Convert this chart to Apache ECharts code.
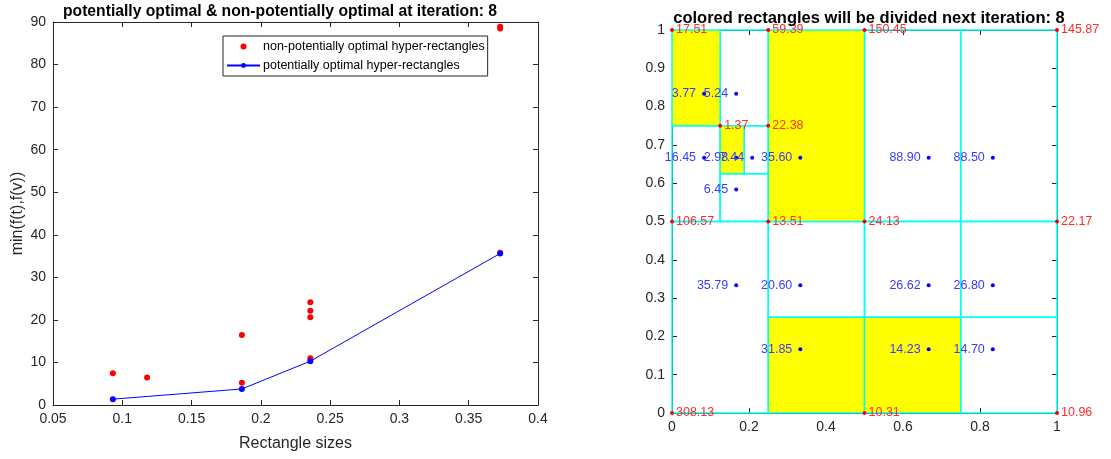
<!DOCTYPE html>
<html>
<head>
<meta charset="utf-8">
<script src="https://cdn.jsdelivr.net/npm/echarts@6/dist/echarts.min.js"></script>
<style>
html, body { margin: 0; padding: 0; background: #fff; }
#main { width: 1111px; height: 459px; }
</style>
</head>
<body>
<div id="main"></div>
<script>
// left plot: [rectangle size, min(f(t),f(v))]
var nonOptimal = [
    [0.0932, 7.44], [0.1179, 6.45],
    [0.1863, 5.24], [0.1863, 16.45],
    [0.2357, 20.60], [0.2357, 24.13], [0.2357, 22.17], [0.2357, 10.96],
    [0.3727, 88.90], [0.3727, 88.50], [0.3727, 35.79]
];
var optimal = [[0.0932, 1.37], [0.1863, 3.77], [0.2357, 10.31], [0.3727, 35.60]];

// right plot: rectangles [x0, x1, y0, y1, selected]
var rects = [
    [0.125, 0.25, 0.75, 1, 0],
    [0, 0.125, 0.5, 0.75, 0],
    [0.1875, 0.25, 0.625, 0.75, 0],
    [0.125, 0.25, 0.5, 0.625, 0],
    [0.5, 0.75, 0.5, 1, 0],
    [0.75, 1, 0.5, 1, 0],
    [0, 0.25, 0, 0.5, 0],
    [0.25, 0.5, 0.25, 0.5, 0],
    [0.5, 0.75, 0.25, 0.5, 0],
    [0.75, 1, 0.25, 0.5, 0],
    [0.75, 1, 0, 0.25, 0],
    [0, 0.125, 0.75, 1, 1],
    [0.125, 0.1875, 0.625, 0.75, 1],
    [0.25, 0.5, 0.5, 1, 1],
    [0.25, 0.5, 0, 0.25, 1],
    [0.5, 0.75, 0, 0.25, 1]
];
// sampled points inside rectangles [x, y, f]
var samplePts = [
    [0.0833, 0.8333, '3.77'], [0.1667, 0.8333, '5.24'],
    [0.0833, 0.6667, '16.45'], [0.1667, 0.6667, '2.98'], [0.2083, 0.6667, '7.44'],
    [0.1667, 0.5833, '6.45'], [0.3333, 0.6667, '35.60'],
    [0.6667, 0.6667, '88.90'], [0.8333, 0.6667, '88.50'],
    [0.1667, 0.3333, '35.79'], [0.3333, 0.3333, '20.60'],
    [0.6667, 0.3333, '26.62'], [0.8333, 0.3333, '26.80'],
    [0.3333, 0.1667, '31.85'], [0.6667, 0.1667, '14.23'], [0.8333, 0.1667, '14.70']
];
// vertices [x, y, f]
var vertexPts = [
    [0, 1, '17.51'], [0.25, 1, '59.39'], [0.5, 1, '150.45'], [1, 1, '145.87'],
    [0.125, 0.75, '1.37'], [0.25, 0.75, '22.38'],
    [0, 0.5, '106.57'], [0.25, 0.5, '13.51'], [0.5, 0.5, '24.13'], [1, 0.5, '22.17'],
    [0, 0, '308.13'], [0.5, 0, '10.31'], [1, 0, '10.96']
];

var font = "'Liberation Sans', Arial, sans-serif";
var axisColor = '#262626';

function makeAxis(grid, pos, min, max, step, showLabel) {
    return {
        type: 'value', gridIndex: grid, position: pos,
        min: min, max: max, interval: step,
        axisLine: {show: true, onZero: false, lineStyle: {color: axisColor, width: 1}},
        axisTick: {show: true, inside: true, length: 5, lineStyle: {color: axisColor}},
        axisLabel: {show: showLabel, color: axisColor, fontSize: 14, margin: 7, fontFamily: font},
        splitLine: {show: false}
    };
}

var chart = echarts.init(document.getElementById('main'));

var xAxes = [
    makeAxis(0, 'bottom', 0.05, 0.4, 0.05, true),
    makeAxis(0, 'top', 0.05, 0.4, 0.05, false),
    makeAxis(1, 'bottom', 0, 1, 0.2, true),
    makeAxis(1, 'top', 0, 1, 0.2, false)
];
xAxes[0].name = 'Rectangle sizes';
xAxes[0].nameLocation = 'middle';
xAxes[0].nameGap = 31;
xAxes[0].nameTextStyle = {fontSize: 16, color: axisColor, fontFamily: font};

var yAxes = [
    makeAxis(0, 'left', 0, 90, 10, true),
    makeAxis(0, 'right', 0, 90, 10, false),
    makeAxis(1, 'left', 0, 1, 0.1, true),
    makeAxis(1, 'right', 0, 1, 0.1, false)
];
yAxes[0].name = 'min(f(t),f(v))';
yAxes[0].nameLocation = 'middle';
yAxes[0].nameGap = 27;
yAxes[0].nameTextStyle = {fontSize: 16, color: axisColor, fontFamily: font};

var option = {
    animation: false,
    textStyle: {fontFamily: font},
    title: [
        {
            text: 'potentially optimal & non-potentially optimal at iteration: 8',
            left: 275, top: -1, textAlign: 'center',
            textStyle: {fontSize: 15.7, fontWeight: 'bold', color: '#000', fontFamily: font}
        },
        {
            text: 'colored rectangles will be divided next iteration: 8',
            left: 864, top: 5, textAlign: 'center',
            textStyle: {fontSize: 16.5, fontWeight: 'bold', color: '#000', fontFamily: font}
        }
    ],
    legend: {
        orient: 'vertical',
        left: 223, top: 36,
        padding: [4, 3, 4, 3],
        itemWidth: 33, itemHeight: 6, itemGap: 6,
        borderColor: axisColor, borderWidth: 1,
        backgroundColor: '#fff',
        textStyle: {fontSize: 12.5, color: '#000', fontFamily: font, padding: [0, 0, 0, -2]},
        data: ['non-potentially optimal hyper-rectangles', 'potentially optimal hyper-rectangles']
    },
    grid: [
        {left: 53, right: 573, top: 22, bottom: 54},
        {left: 672, right: 54, top: 30, bottom: 46}
    ],
    xAxis: xAxes,
    yAxis: yAxes,
    series: [
        {
            name: 'non-potentially optimal hyper-rectangles',
            type: 'scatter', xAxisIndex: 0, yAxisIndex: 0,
            symbol: 'circle', symbolSize: 6,
            itemStyle: {color: '#ff0000', opacity: 1},
            data: nonOptimal
        },
        {
            name: 'potentially optimal hyper-rectangles',
            type: 'line', xAxisIndex: 0, yAxisIndex: 0,
            symbol: 'circle', symbolSize: 6, showAllSymbol: true,
            lineStyle: {color: '#0000ff', width: 1},
            itemStyle: {color: '#0000ff', opacity: 1},
            data: optimal,
            z: 3
        },
        {
            type: 'custom', xAxisIndex: 2, yAxisIndex: 2,
            encode: {x: [0, 1], y: [2, 3]},
            renderItem: function (params, api) {
                var p0 = api.coord([api.value(0), api.value(3)]);
                var p1 = api.coord([api.value(1), api.value(2)]);
                return {
                    type: 'rect',
                    shape: {x: p0[0], y: p0[1], width: p1[0] - p0[0], height: p1[1] - p0[1]},
                    style: {
                        fill: api.value(4) ? '#ffff00' : 'rgba(0,0,0,0)',
                        stroke: '#00ffff', lineWidth: 1.5
                    }
                };
            },
            data: rects,
            z: 2
        },
        {
            type: 'scatter', xAxisIndex: 2, yAxisIndex: 2,
            symbolSize: 4,
            itemStyle: {color: '#0000ff', opacity: 1},
            label: {
                show: true, position: 'left', distance: 6,
                formatter: function (p) { return p.data[2]; },
                color: '#3a3aff', fontSize: 12.5, fontFamily: font
            },
            data: samplePts,
            z: 4
        },
        {
            type: 'scatter', xAxisIndex: 2, yAxisIndex: 2,
            symbolSize: 4,
            itemStyle: {color: '#ff0000', opacity: 1},
            label: {
                show: true, position: 'right', distance: 2,
                formatter: function (p) { return p.data[2]; },
                color: '#ff2a2a', fontSize: 12.5, fontFamily: font
            },
            data: vertexPts,
            z: 4
        }
    ]
};

chart.setOption(option);
</script>
</body>
</html>
